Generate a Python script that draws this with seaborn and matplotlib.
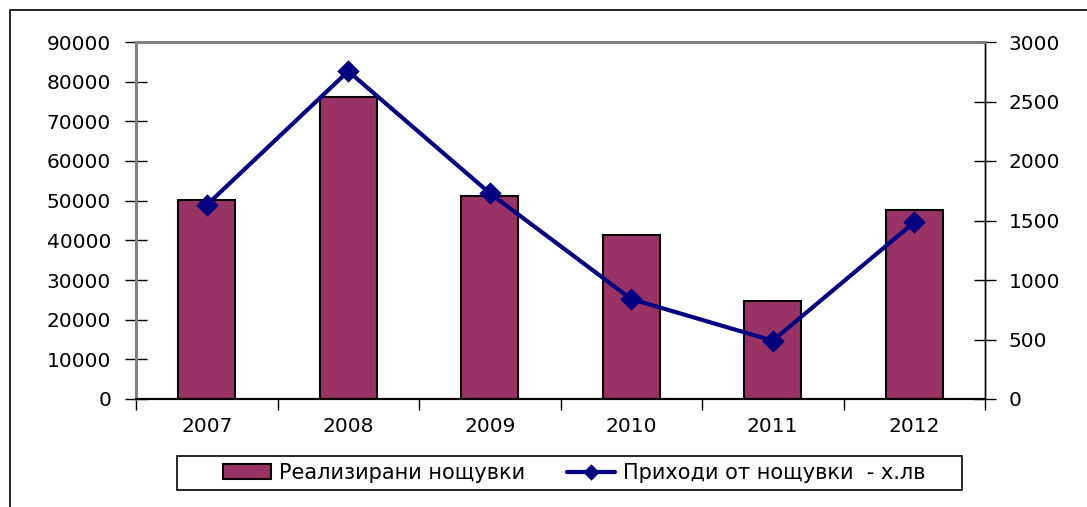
import matplotlib
matplotlib.use("Agg")
import matplotlib.pyplot as plt
import seaborn as sns
import pandas as pd
from matplotlib.patches import Rectangle
from matplotlib.ticker import FixedLocator

years = ["2007", "2008", "2009", "2010", "2011", "2012"]
nights = [50100, 76100, 51200, 41300, 24700, 47600]
revenue = [1630, 2755, 1730, 840, 490, 1485]
left_ticks = [0, 10000, 20000, 30000, 40000, 50000, 60000, 70000, 80000, 90000]
right_ticks = [0, 500, 1000, 1500, 2000, 2500, 3000]
bar_label = "Реализирани нощувки"
line_label = "Приходи от нощувки  - х.лв"

sns.set_style("white")
plt.rcParams["font.family"] = ["DejaVu Sans"]
plt.rcParams["text.color"] = "black"
plt.rcParams["xtick.color"] = "black"
plt.rcParams["ytick.color"] = "black"
plt.rcParams["xtick.labelcolor"] = "black"
plt.rcParams["ytick.labelcolor"] = "black"
FS = 14.5

df = pd.DataFrame({"year": years, "nights": nights, "revenue": revenue})

W, H = 1087, 507
fig = plt.figure(figsize=(W / 100, H / 100), dpi=100)
ax = fig.add_axes([136 / W, 1 - 399 / H, (985 - 136) / W, (399 - 42) / H])

sns.barplot(data=df, x="year", y="nights", ax=ax, color="#993366", saturation=1,
            width=0.4, edgecolor="black", linewidth=1.5, label=bar_label)
ax2 = ax.twinx()
sns.pointplot(data=df, x="year", y="revenue", ax=ax2, color="#000080",
              markers="D", linestyles="-", markersize=9.5, linewidth=3,
              label=line_label)
for a in (ax, ax2):
    if a.get_legend() is not None:
        a.get_legend().remove()

ax.set_xlim(-0.5, len(years) - 0.5)
ax.set_ylim(0, 90000)
ax2.set_ylim(0, 3000)
ax.set_yticks(left_ticks)
ax.set_yticklabels([str(v) for v in left_ticks])
ax2.set_yticks(right_ticks)
ax2.set_yticklabels([str(v) for v in right_ticks])
ax.set_xlabel("")
ax.set_ylabel("")
ax2.set_xlabel("")
ax2.set_ylabel("")

# category boundary ticks
ax.xaxis.set_minor_locator(FixedLocator([i - 0.5 for i in range(len(years) + 1)]))
ax.tick_params(axis="x", which="major", length=0, pad=13, labelsize=FS, labelcolor="black")
ax.tick_params(axis="x", which="minor", bottom=True, length=8, width=1, color="black", direction="out")
ax.tick_params(axis="y", left=True, direction="inout", length=16, width=1, color="black", pad=10,
               labelsize=FS, labelcolor="black")
ax2.tick_params(axis="y", right=True, direction="inout", length=16, width=1, color="black", pad=9,
                labelsize=FS, labelcolor="black")

for a in (ax, ax2):
    a.spines["left"].set_color("#808080")
    a.spines["left"].set_linewidth(2)
    a.spines["top"].set_color("#808080")
    a.spines["top"].set_linewidth(2)
    a.spines["right"].set_color("black")
    a.spines["right"].set_linewidth(1)
    a.spines["bottom"].set_color("black")
    a.spines["bottom"].set_linewidth(1.5)
    a.grid(False)

# outer chart frame
fig.patches.append(Rectangle((10 / W, -0.1), 1.2, 1 - 10 / H + 0.1, transform=fig.transFigure,
                             fill=False, edgecolor="black", linewidth=1.2, zorder=-1))
# legend box
fig.patches.append(Rectangle((177 / W, 1 - 490 / H), (962 - 177) / W, 34 / H,
                             transform=fig.transFigure, fill=False, edgecolor="black", linewidth=1.2))

h1, l1 = ax.get_legend_handles_labels()
h2, l2 = ax2.get_legend_handles_labels()
leg = fig.legend(h1 + h2, l1 + l2, loc="center", bbox_to_anchor=(574 / W, 1 - 473 / H),
                 ncol=2, frameon=False, fontsize=15, handlelength=2.3, handletextpad=0.4,
                 columnspacing=2.0, borderpad=0.2)
for lh in leg.legend_handles:
    if hasattr(lh, "set_markersize"):
        lh.set_markersize(6)

fig.savefig("out.png", dpi=100, facecolor="white")
